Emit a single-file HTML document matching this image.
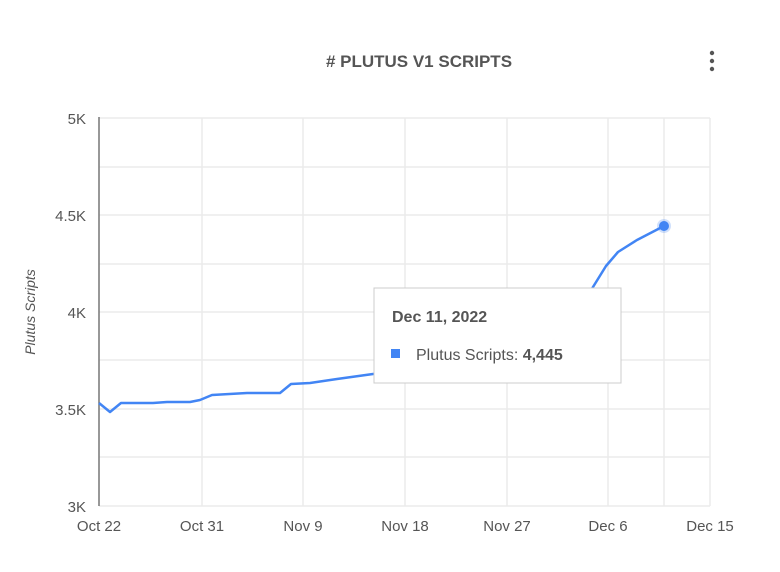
<!DOCTYPE html>
<html><head><style>
body{margin:0;background:#fff;width:780px;height:567px;overflow:hidden;font-family:"Liberation Sans",sans-serif;}
</style></head><body>
<svg width="780" height="567" viewBox="0 0 780 567" xmlns="http://www.w3.org/2000/svg" font-family="Liberation Sans, sans-serif">
<text x="419" y="67" text-anchor="middle" font-size="17" font-weight="bold" fill="#555">#  PLUTUS V1 SCRIPTS</text>
<circle cx="712" cy="53" r="2.2" fill="#555"/><circle cx="712" cy="61" r="2.2" fill="#555"/><circle cx="712" cy="69" r="2.2" fill="#555"/>
<g stroke="#ebebeb" stroke-width="1.5">
<line x1="99" y1="118" x2="710" y2="118"/><line x1="99" y1="167" x2="710" y2="167"/><line x1="99" y1="215" x2="710" y2="215"/><line x1="99" y1="264" x2="710" y2="264"/><line x1="99" y1="312" x2="710" y2="312"/><line x1="99" y1="360" x2="710" y2="360"/><line x1="99" y1="409" x2="710" y2="409"/><line x1="99" y1="457" x2="710" y2="457"/><line x1="99" y1="506" x2="710" y2="506"/>
<line x1="202" y1="118" x2="202" y2="506"/><line x1="303" y1="118" x2="303" y2="506"/><line x1="405" y1="118" x2="405" y2="506"/><line x1="507" y1="118" x2="507" y2="506"/><line x1="608" y1="118" x2="608" y2="506"/><line x1="664" y1="118" x2="664" y2="506"/><line x1="710" y1="118" x2="710" y2="506"/>
</g>
<line x1="99" y1="117" x2="99" y2="506" stroke="#777" stroke-width="1.5"/>
<g font-size="15" fill="#555" text-anchor="end">
<text x="86" y="124">5K</text><text x="86" y="221">4.5K</text><text x="86" y="318">4K</text><text x="86" y="415">3.5K</text><text x="86" y="512">3K</text>
</g>
<g font-size="15" fill="#555" text-anchor="middle">
<text x="99" y="531">Oct 22</text><text x="202" y="531">Oct 31</text><text x="303" y="531">Nov 9</text><text x="405" y="531">Nov 18</text><text x="507" y="531">Nov 27</text><text x="608" y="531">Dec 6</text><text x="710" y="531">Dec 15</text>
</g>
<text transform="translate(35,312) rotate(-90)" text-anchor="middle" font-size="14" font-style="italic" fill="#555">Plutus Scripts</text>
<polyline fill="none" stroke="#4285f4" stroke-width="2.5" stroke-linejoin="round" points="99,403 110,412 121,403 153,403 167,402 190,402 200,400 212,395 247,393 280,393 291,384 310,383 337,379 373,374 420,368 480,360 540,345 580,310 593,287 606,266 618,252 637,240 664,226"/>
<circle cx="664" cy="226" r="7" fill="#4285f4" opacity="0.25"/>
<circle cx="664" cy="226" r="5" fill="#4285f4"/>
<rect x="374" y="288" width="247" height="95" fill="#fff" stroke="#ccc" stroke-width="1"/>
<text x="392" y="322" font-size="16" font-weight="bold" fill="#555">Dec 11, 2022</text>
<rect x="391" y="349" width="9" height="9" fill="#4285f4"/>
<text x="416" y="360" font-size="16" fill="#555">Plutus Scripts: <tspan font-weight="bold">4,445</tspan></text>
</svg>
</body></html>
